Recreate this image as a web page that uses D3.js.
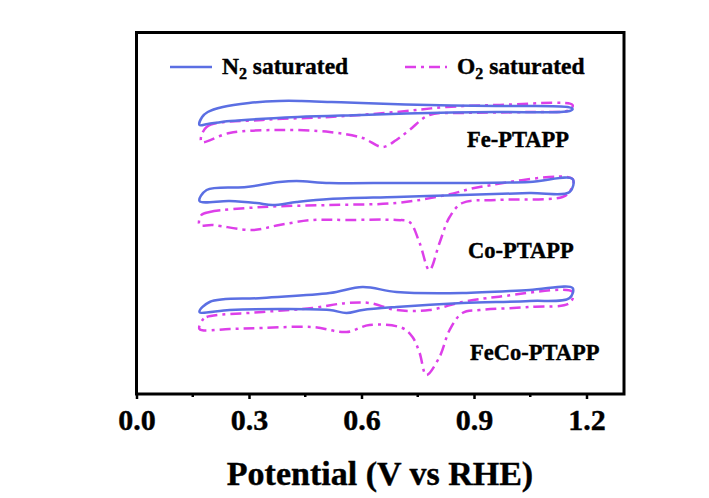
<!DOCTYPE html>
<html>
<head>
<meta charset="utf-8">
<script src="https://cdn.jsdelivr.net/npm/d3@7"></script>
<style>
  body { margin: 0; background: #fff; }
  text { font-family: "Liberation Serif", "Times New Roman", serif; font-weight: bold; stroke: #000; stroke-width: 0.4px; }
</style>
</head>
<body>
<script>
// Size of the page
var width = 709;
var height = 498;

// Potential axis ticks
var majorTicks = [0.0, 0.3, 0.6, 0.9, 1.2];
var minorTicks = [0.15, 0.45, 0.75, 1.05];

// Samples, stacked with a vertical offset (arbitrary current units)
var samples = ["Fe-PTAPP", "Co-PTAPP", "FeCo-PTAPP"];
var offsets = [14.2, 10.2, 4.7];

// Cyclic voltammograms [E (V vs RHE), j (a.u.)], one closed loop each
var feN2 = [[0.168,-0.75],[0.175,-0.35],[0.19,-0.1],[0.23,0.15],[0.30,0.35],[0.38,0.45],[0.44,0.45],[0.52,0.4],[0.60,0.35],[0.78,0.25],[0.96,0.2],[1.15,0.15],[1.163,0.05],
            [1.155,-0.05],[0.96,-0.1],[0.78,-0.15],[0.60,-0.25],[0.43,-0.35],[0.25,-0.55],[0.19,-0.7]];
var feO2 = [[0.173,-1.6],[0.187,-0.85],[0.336,-0.5],[0.515,-0.35],[0.693,-0.1],[0.827,0.15],[0.96,0.25],[1.163,0.25],
            [1.155,0.0],[1.048,-0.1],[0.869,-0.15],[0.781,-0.25],[0.728,-1.0],[0.693,-1.5],[0.656,-1.85],[0.603,-1.4],[0.515,-1.1],[0.381,-1.0],[0.248,-1.15]];
var coN2 = [[0.168,-0.55],[0.187,0.0],[0.293,0.15],[0.381,0.4],[0.427,0.45],[0.515,0.35],[0.693,0.35],[0.869,0.35],[1.048,0.4],[1.163,0.55],
            [1.155,-0.1],[1.048,-0.15],[0.869,-0.25],[0.693,-0.35],[0.515,-0.45],[0.427,-0.6],[0.363,-0.75],[0.32,-0.65],[0.248,-0.55]];
var coO2 = [[0.173,-1.25],[0.195,-1.1],[0.336,-0.85],[0.515,-0.75],[0.693,-0.65],[0.827,-0.25],[0.915,0.15],[1.163,0.55],
            [1.155,-0.1],[1.136,-0.35],[0.96,-0.5],[0.869,-0.65],[0.835,-1.35],[0.808,-2.65],[0.781,-4.0],[0.755,-2.65],[0.728,-1.6],[0.693,-1.5],
            [0.56,-1.5],[0.469,-1.5],[0.381,-1.75],[0.309,-2.0],[0.203,-1.75],[0.168,-1.75]];
var fecoN2 = [[0.168,-0.6],[0.195,-0.1],[0.336,0.1],[0.515,0.35],[0.603,0.65],[0.693,0.4],[0.869,0.35],[1.048,0.5],[1.163,0.6],
              [1.155,0.1],[1.048,-0.05],[0.869,-0.15],[0.693,-0.35],[0.603,-0.5],[0.56,-0.65],[0.515,-0.5],[0.381,-0.45],[0.248,-0.5]];
var fecoO2 = [[0.176,-1.0],[0.187,-0.85],[0.336,-0.6],[0.469,-0.4],[0.56,-0.15],[0.621,-0.15],[0.693,-0.5],[0.781,-0.5],[0.869,-0.1],[0.96,0.15],[1.163,0.4],
              [1.155,-0.15],[1.048,-0.35],[0.915,-0.5],[0.869,-0.65],[0.835,-1.5],[0.808,-2.85],[0.773,-3.75],[0.755,-2.65],[0.736,-1.85],[0.709,-1.4],
              [0.621,-1.25],[0.56,-1.6],[0.469,-1.35],[0.336,-1.4],[0.248,-1.45],[0.168,-1.45]];

var n2Curves = [feN2, coN2, fecoN2];
var o2Curves = [feO2, coO2, fecoO2];

var blue = "#5b6fe3";
var magenta = "#dd3fe9";

// Plot box
var box = {left: 136.5, right: 624, top: 32.5, bottom: 394};

var x = d3.scaleLinear().domain([0, 1.3]).range([box.left, box.left + 1.3 * 375]);
var y = d3.scaleLinear().domain([0, 18.1]).range([box.bottom, box.bottom - 362]);

var svg = d3.select("body").append("svg")
  .attr("width", width)
  .attr("height", height);

svg.append("rect")
  .attr("width", width)
  .attr("height", height)
  .attr("fill", "#fff");

var line = d3.line()
  .x(function (d) { return x(d[0]); })
  .y(function (d) { return y(d[1] + d.off); })
  .curve(d3.curveCatmullRomClosed.alpha(0.5));

function withOffset(curve, off) {
  return curve.map(function (p) { var q = [p[0], p[1]]; q.off = off; return q; });
}

// O2 curves (dash-dot) then N2 curves on top
o2Curves.forEach(function (c, i) {
  svg.append("path")
    .attr("d", line(withOffset(c, offsets[i])))
    .attr("fill", "none")
    .attr("stroke", magenta)
    .attr("stroke-width", 2.5)
    .attr("stroke-linejoin", "round")
    .attr("stroke-dasharray", "11,5,3,5");
});
n2Curves.forEach(function (c, i) {
  svg.append("path")
    .attr("d", line(withOffset(c, offsets[i])))
    .attr("fill", "none")
    .attr("stroke", blue)
    .attr("stroke-linejoin", "round")
    .attr("stroke-width", 2.5);
});

// Sample labels
var labelPos = [[467, 147], [468, 258], [470, 360]];
samples.forEach(function (s, i) {
  svg.append("text")
    .attr("x", labelPos[i][0])
    .attr("y", labelPos[i][1])
    .attr("font-size", "22.5px")
    .attr("fill", "#000")
    .text(s);
});

// Legend
var legend = [
  {el: "N", color: blue, dash: null, x: 170},
  {el: "O", color: magenta, dash: "11,5,3,5", x: 405}
];
legend.forEach(function (d) {
  svg.append("line")
    .attr("x1", d.x).attr("x2", d.x + 42)
    .attr("y1", 67).attr("y2", 67)
    .attr("stroke", d.color)
    .attr("stroke-width", 2.5)
    .attr("stroke-dasharray", d.dash);
  var t = svg.append("text")
    .attr("x", d.x + 52)
    .attr("y", 74)
    .attr("font-size", "23.5px")
    .attr("fill", "#000");
  t.append("tspan").text(d.el);
  t.append("tspan").attr("font-size", "16px").attr("dy", 5).text("2");
  t.append("tspan").attr("dy", -5).text(" saturated");
});

// Axis with outward ticks
var axis = svg.append("g").attr("transform", "translate(0," + box.bottom + ")");
axis.call(d3.axisBottom(x).tickValues(majorTicks).tickSize(5).tickPadding(10).tickFormat(d3.format(".1f")));
axis.select(".domain").remove();
axis.selectAll(".tick line").attr("stroke-width", 2.5);
axis.selectAll(".tick text")
  .attr("font-family", "Liberation Serif, serif")
  .attr("font-weight", "bold")
  .attr("font-size", "30px")
  .attr("fill", "#000");
axis.selectAll(".minor").data(minorTicks).enter().append("line")
  .attr("x1", function (d) { return x(d); })
  .attr("x2", function (d) { return x(d); })
  .attr("y1", 0).attr("y2", 3)
  .attr("stroke", "#000")
  .attr("stroke-width", 2.5);

// Frame
svg.append("rect")
  .attr("x", box.left)
  .attr("y", box.top)
  .attr("width", box.right - box.left)
  .attr("height", box.bottom - box.top)
  .attr("fill", "none")
  .attr("stroke", "#000")
  .attr("stroke-width", 3);

// Axis title
svg.append("text")
  .attr("x", 380)
  .attr("y", 485)
  .attr("text-anchor", "middle")
  .attr("font-size", "34px")
  .attr("fill", "#000")
  .text("Potential (V vs RHE)");
</script>
</body>
</html>
